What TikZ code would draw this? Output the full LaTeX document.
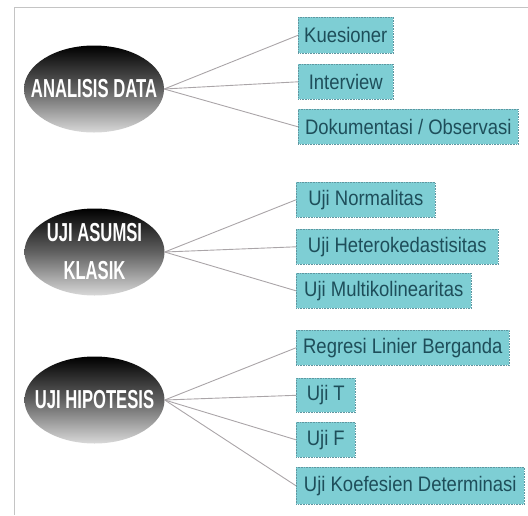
\documentclass[tikz,border=0pt]{standalone}
\usepackage{fontspec}
\usetikzlibrary{shapes.geometric}
\newfontfamily\boxfont[FakeStretch=0.88]{Liberation Sans}
\newfontfamily\ellfont[FakeStretch=0.64]{Liberation Sans}
\definecolor{boxfill}{RGB}{126,206,212}
\definecolor{boxline}{RGB}{95,150,160}
\definecolor{boxtext}{RGB}{30,78,90}
\definecolor{frameline}{RGB}{196,196,196}
\definecolor{conn}{RGB}{170,165,168}
\tikzset{
  ell/.style={ellipse, minimum width=140pt, minimum height=87pt, inner sep=0pt,
    top color=black, bottom color=black!15, middle color=black!62},
  elltext/.style={inner sep=0pt, text=white, align=center,
    font={\ellfont\bfseries\fontsize{26}{38}\selectfont}},
  box/.style={rectangle, anchor=north west, inner sep=0pt, fill=boxfill,
    draw=boxline, densely dotted, line width=0.6pt, text=boxtext,
    font={\boxfont\fontsize{21}{23}\selectfont}},
  conline/.style={draw=conn, line width=0.9pt},
  frame/.style={draw=frameline, line width=1pt}
}
\begin{document}
\begin{tikzpicture}[x=1pt,y=-1pt]
\useasboundingbox (0,0) rectangle (528,515);
\coordinate (ftr) at (528,7);
\coordinate (ftl) at (14,7);
\coordinate (fbl) at (14,515);
\draw[frame] (ftr) -- (ftl) -- (fbl);

\node[ell] (e1) at (94,89) {};
\node[elltext] (t1) at (e1) {ANALISIS DATA};
\node[ell] (e2) at (94.5,252) {};
\node[elltext] (t2) at (e2) {UJI ASUMSI\\KLASIK};
\node[ell] (e3) at (94.5,400) {};
\node[elltext] (t3) at (e3) {UJI HIPOTESIS};

\node[box, minimum width=95pt, minimum height=36pt] (k) at (298,17) {Kuesioner};
\node[box, minimum width=95pt, minimum height=35pt] (i) at (298,64) {Interview};
\node[box, minimum width=220pt, minimum height=35pt] (d) at (298,109) {Dokumentasi / Observasi};

\node[box, minimum width=139pt, minimum height=35pt] (n) at (296,182) {Uji Normalitas};
\node[box, minimum width=202pt, minimum height=35pt] (h) at (296,229) {Uji Heterokedastisitas};
\node[box, minimum width=175pt, minimum height=35pt] (m) at (296,273) {Uji Multikolinearitas};

\node[box, minimum width=213pt, minimum height=35pt] (r) at (296,330) {Regresi Linier Berganda};
\node[box, minimum width=59pt, minimum height=34pt] (t) at (296,378) {Uji T};
\node[box, minimum width=59pt, minimum height=35pt] (f) at (296,422) {Uji F};
\node[box, minimum width=228pt, minimum height=37pt] (ko) at (296,467) {Uji Koefesien Determinasi};

\foreach \b in {k,i,d} \draw[conline] (e1.east) -- (\b.west);
\foreach \b in {n,h,m} \draw[conline] (e2.east) -- (\b.west);
\foreach \b in {r,t,f,ko} \draw[conline] (e3.east) -- (\b.west);
\end{tikzpicture}
\end{document}
